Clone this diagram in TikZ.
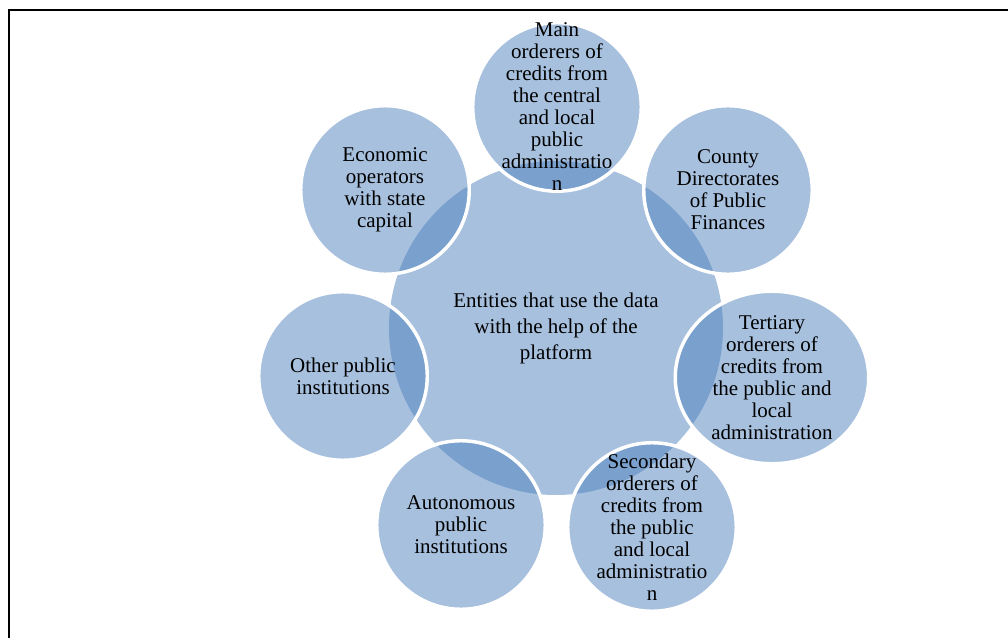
\documentclass[tikz,border=0pt]{standalone}
\usepackage{fontspec}
\setmainfont{Liberation Serif}
\usetikzlibrary{shapes.geometric}
\definecolor{ringblue}{HTML}{4F81BD}
\begin{document}
\begin{tikzpicture}[x=0.75pt,y=-0.75pt,
  hub/.style={circle, fill=ringblue, fill opacity=0.5, text opacity=1,
    minimum size=250.5pt, inner sep=0pt, align=center,
    font=\fontsize{15.75}{19.5}\selectfont},
  satellite/.style={circle, fill=ringblue, fill opacity=0.5, draw=white,
    draw opacity=1, line width=2.6pt,
    minimum size=126.4pt, inner sep=0pt},
  wide satellite/.style={satellite, ellipse,
    minimum width=145.1pt, minimum height=129.4pt},
  caption/.style={label={[align=center, text opacity=1, fill opacity=1,
    inner sep=0pt, font=\fontsize{15.75}{16.5}\selectfont]center:{#1}}}]
\useasboundingbox (0,0) rectangle (1008,638);

% page frame
\draw[line width=1.5pt] (9,638) -- (9,10.5) -- (1008,10.5);

% central entity
\node[hub] (hub) at (556,328)
  {Entities that use the data\\with the help of the\\platform};

% the seven user groups around it
\node[satellite, caption={Main\\orderers of\\credits from\\the central\\and local\\public\\administratio\\n}]
  (main) at (557,107) {};
\node[satellite, caption={County\\Directorates\\of Public\\Finances}]
  (county) at (728,190) {};
\node[wide satellite, caption={Tertiary\\orderers of\\credits from\\the public and\\local\\administration}]
  (tertiary) at (772,377.5) {};
\node[satellite, caption={Secondary\\orderers of\\credits from\\the public\\and local\\administratio\\n}]
  (secondary) at (652,527) {};
\node[satellite, caption={Autonomous\\public\\institutions}]
  (autonomous) at (461,525) {};
\node[satellite, caption={Other public\\institutions}]
  (other) at (343,376) {};
\node[satellite, caption={Economic\\operators\\with state\\capital}]
  (economic) at (385,190) {};
\end{tikzpicture}
\end{document}
